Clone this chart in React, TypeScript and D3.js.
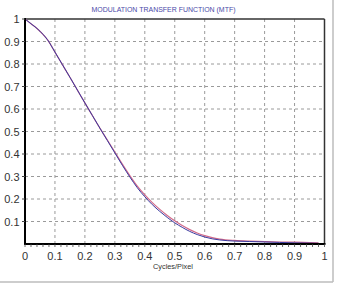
import React from "react";
import * as d3 from "d3";

const xTicks = [0, 0.1, 0.2, 0.3, 0.4, 0.5, 0.6, 0.7, 0.8, 0.9, 1];
const yTicks = [0.1, 0.2, 0.3, 0.4, 0.5, 0.6, 0.7, 0.8, 0.9, 1];
const xTickLabels = ["0", "0.1", "0.2", "0.3", "0.4", "0.5", "0.6", "0.7", "0.8", "0.9", "1"];
const yTickLabels = ["0.1", "0.2", "0.3", "0.4", "0.5", "0.6", "0.7", "0.8", "0.9", "1"];

const freq = [0, 0.02, 0.04, 0.06, 0.075, 0.1, 0.125, 0.15, 0.175, 0.2, 0.225, 0.25, 0.275, 0.3, 0.325, 0.35, 0.375, 0.4, 0.425, 0.45, 0.475, 0.5, 0.525, 0.55, 0.575, 0.6, 0.625, 0.65, 0.7, 0.75, 0.8, 0.85, 0.9, 0.95, 0.98];
const mtfBlue = [1.0, 0.979, 0.958, 0.932, 0.908, 0.853, 0.797, 0.741, 0.684, 0.627, 0.571, 0.515, 0.46, 0.405, 0.35, 0.298, 0.25, 0.21, 0.175, 0.145, 0.118, 0.094, 0.074, 0.056, 0.042, 0.031, 0.023, 0.018, 0.013, 0.011, 0.009, 0.007, 0.005, 0.004, 0.003];
const mtfRed = [1.0, 0.979, 0.958, 0.932, 0.908, 0.853, 0.797, 0.741, 0.684, 0.627, 0.571, 0.515, 0.462, 0.409, 0.355, 0.304, 0.257, 0.218, 0.184, 0.154, 0.127, 0.103, 0.082, 0.064, 0.049, 0.037, 0.028, 0.022, 0.016, 0.013, 0.011, 0.009, 0.008, 0.006, 0.005];

const title = "MODULATION TRANSFER FUNCTION (MTF)";
const xLabel = "Cycles/Pixel";

export default function App() {
  const W = 339, H = 295;
  const x = d3.scaleLinear().domain([0, 1]).range([25, 324.5]);
  const y = d3.scaleLinear().domain([0, 1]).range([244, 19]);
  const mk = (vals: number[]) =>
    d3.line<number>().x((_, i) => x(freq[i])).y((d) => y(d)).curve(d3.curveMonotoneX)(vals) || "";
  const minor = d3.range(0, 1.0001, 0.02);
  const font = "'Liberation Sans', Arial, sans-serif";
  return (
    <svg width={W} height={H} style={{ position: "absolute", left: 0, top: 0, background: "#fff" }}>
      <rect x={0} y={0} width={W} height={H} fill="#fff" />
      <line x1={333} y1={0} x2={333} y2={282} stroke="#bdbdbd" strokeWidth={1.5} />
      <line x1={0} y1={282} x2={333} y2={282} stroke="#bdbdbd" strokeWidth={1.5} />
      <text x={163.5} y={12} fontSize={6.5} fill="#4a4aa8" textAnchor="middle" fontFamily={font} textLength={144} lengthAdjust="spacingAndGlyphs">{title}</text>
      {xTicks.slice(1, -1).map((t) => (
        <line key={"gx" + t} x1={x(t)} x2={x(t)} y1={y(1)} y2={y(0)} stroke="#9a9a9a" strokeWidth={1} strokeDasharray="3,3" />
      ))}
      {yTicks.slice(0, -1).map((t) => (
        <line key={"gy" + t} x1={x(0)} x2={x(1)} y1={y(t)} y2={y(t)} stroke="#9a9a9a" strokeWidth={1} strokeDasharray="3,3" />
      ))}
      <line x1={x(0)} x2={x(1)} y1={y(1)} y2={y(1)} stroke="#333" strokeWidth={1.5} />
      <line x1={x(1)} x2={x(1)} y1={y(1)} y2={y(0)} stroke="#333" strokeWidth={1.5} />
      <path d={mk(mtfRed)} fill="none" stroke="#d06a8a" strokeWidth={1.2} />
      <path d={mk(mtfBlue)} fill="none" stroke="#3a3aa0" strokeWidth={1} />
      <line x1={x(0)} x2={x(0)} y1={y(1) - 1} y2={y(0) + 1} stroke="#000" strokeWidth={2} />
      <line x1={x(0) - 1} x2={x(1) + 1} y1={y(0)} y2={y(0)} stroke="#000" strokeWidth={2} />
      {minor.map((t) => (
        <line key={"mx" + t} x1={x(t)} x2={x(t)} y1={y(0)} y2={y(0) + 3} stroke="#444" strokeWidth={0.8} />
      ))}
      {yTicks.map((t) => (
        <line key={"ty" + t} x1={x(0) - 3} x2={x(0)} y1={y(t)} y2={y(t)} stroke="#444" strokeWidth={1} />
      ))}
      {xTicks.map((t, i) => (
        <text key={"lx" + t} x={x(t)} y={260} fontSize={11} fill="#333" textAnchor="middle" fontFamily={font}>{xTickLabels[i]}</text>
      ))}
      {yTicks.map((t, i) => (
        <text key={"ly" + t} x={19.5} y={y(t) + 4} fontSize={11} fill="#333" textAnchor="end" fontFamily={font}>{yTickLabels[i]}</text>
      ))}
      <text x={173} y={269} fontSize={6.5} fill="#333" textAnchor="middle" fontFamily={font} textLength={40} lengthAdjust="spacingAndGlyphs">{xLabel}</text>
    </svg>
  );
}
